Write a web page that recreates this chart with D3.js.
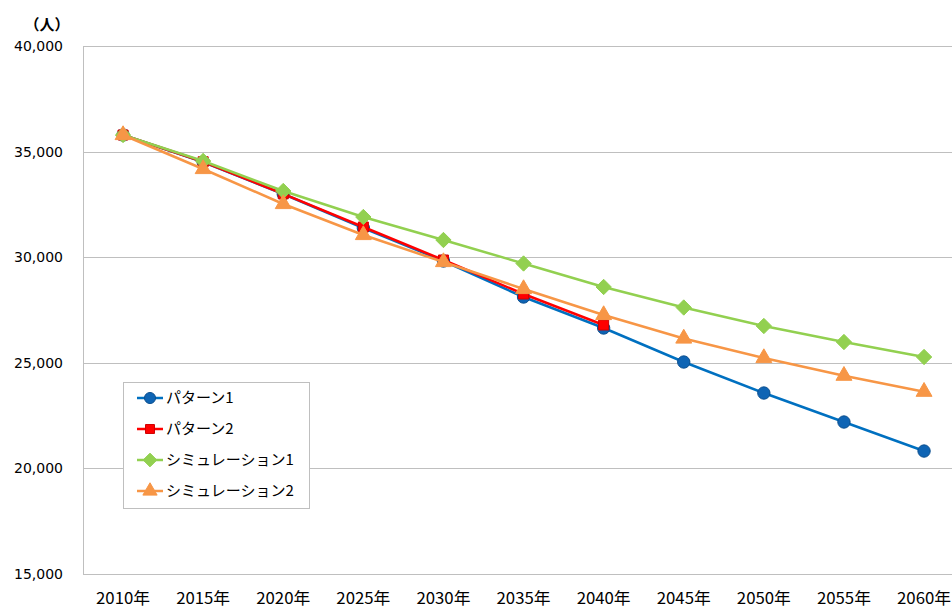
<!DOCTYPE html>
<html>
<head>
<meta charset="utf-8">
<script src="https://cdn.jsdelivr.net/npm/d3@7"></script>
<style>
body { margin: 0; background: #fff; }
svg text { fill: #000; }
</style>
</head>
<body>
<div id="chart"></div>
<script>
var w = 952;
var h = 608;

// categories & series
var years = ["2010年", "2015年", "2020年", "2025年", "2030年", "2035年", "2040年", "2045年", "2050年", "2055年", "2060年"];
var pattern1 = [35786, 34507, 32992, 31382, 29820, 28115, 26647, 25037, 23569, 22196, 20822];
var pattern2 = [35786, 34520, 33000, 31430, 29867, 28257, 26789];
var simulation1 = [35786, 34555, 33134, 31903, 30814, 29702, 28590, 27618, 26742, 25984, 25274];
var simulation2 = [35786, 34176, 32519, 31051, 29772, 28494, 27263, 26150, 25227, 24389, 23631];
var yTicks = [15000, 20000, 25000, 30000, 35000, 40000];

var diamond = d3.symbolDiamond2 || d3.symbolDiamond;

var series = [
    {name: "パターン1", values: pattern1, color: "#0070C0", fill: "#0E64B4", stroke: "#0B4F8F", shape: d3.symbolCircle, size: 120},
    {name: "パターン2", values: pattern2, color: "#FF0000", fill: "#FF0000", stroke: "#D00000", shape: d3.symbolSquare, size: 100},
    {name: "シミュレーション1", values: simulation1, color: "#92D050", fill: "#92D050", stroke: "#92D050", shape: diamond, size: 150},
    {name: "シミュレーション2", values: simulation2, color: "#F79646", fill: "#F79646", stroke: "#F79646", shape: d3.symbolTriangle, size: 110}
];

var plotLeft = 83, plotTop = 46, bandW = 80.1, plotBottom = 574;

var x = d3.scaleBand()
    .domain(years)
    .range([plotLeft, plotLeft + bandW * years.length]);

var y = d3.scaleLinear()
    .domain([15000, 40000])
    .range([plotBottom, plotTop]);

var svg = d3.select("#chart")
    .append("svg")
    .attr("width", w)
    .attr("height", h);

// gridlines
svg.append("g").selectAll("line")
    .data(yTicks)
    .enter()
    .append("line")
    .attr("x1", plotLeft)
    .attr("x2", w)
    .attr("y1", function (d) { return Math.round(y(d)) + 0.5; })
    .attr("y2", function (d) { return Math.round(y(d)) + 0.5; })
    .attr("stroke", "#BFBFBF")
    .attr("stroke-width", 1);

// left axis line
svg.append("line")
    .attr("x1", plotLeft + 0.5).attr("x2", plotLeft + 0.5)
    .attr("y1", plotTop).attr("y2", plotBottom + 0.5)
    .attr("stroke", "#BFBFBF");

// y tick labels
svg.append("g").selectAll("text")
    .data(yTicks)
    .enter()
    .append("text")
    .attr("x", 63)
    .attr("y", function (d) { return y(d); })
    .attr("dy", "0.36em")
    .attr("text-anchor", "end")
    .style("font-family", "'DejaVu Sans', sans-serif")
    .style("font-size", "14px")
    .text(function (d) { return d3.format(",")(d); });

// unit label
svg.append("text")
    .attr("x", 47)
    .attr("y", 25)
    .attr("dy", "0.35em")
    .attr("text-anchor", "middle")
    .style("font-family", "'Noto Sans CJK JP', sans-serif")
    .style("font-size", "15px")
    .style("font-weight", "bold")
    .text("（人）");

// x labels
svg.append("g").selectAll("text")
    .data(years)
    .enter()
    .append("text")
    .attr("x", function (d) { return x(d) + x.bandwidth() / 2; })
    .attr("y", 598)
    .attr("dy", "0.35em")
    .attr("text-anchor", "middle")
    .style("font-family", "'Noto Sans CJK JP', sans-serif")
    .style("font-size", "16px")
    .attr("textLength", 54)
    .attr("lengthAdjust", "spacingAndGlyphs")
    .text(function (d) { return d; });

var line = d3.line()
    .x(function (d, i) { return x(years[i]) + x.bandwidth() / 2; })
    .y(function (d) { return y(d); });

// series lines + markers
series.forEach(function (s) {
    var g = svg.append("g");
    g.append("path")
        .attr("d", line(s.values))
        .attr("fill", "none")
        .attr("stroke", s.color)
        .attr("stroke-width", 2.5)
        .attr("stroke-linejoin", "round");
    g.selectAll("path.m")
        .data(s.values)
        .enter()
        .append("path")
        .attr("class", "m")
        .attr("d", d3.symbol().type(s.shape).size(s.size))
        .attr("transform", function (d, i) {
            return "translate(" + (x(years[i]) + x.bandwidth() / 2) + "," + y(d) + ")";
        })
        .attr("fill", s.fill)
        .attr("stroke", s.stroke)
        .attr("stroke-width", 1);
});

// legend
var legend = svg.append("g");
legend.append("rect")
    .attr("x", 123.5).attr("y", 382.5)
    .attr("width", 186).attr("height", 126)
    .attr("fill", "#fff")
    .attr("stroke", "#BFBFBF");

var items = legend.selectAll("g.item")
    .data(series)
    .enter()
    .append("g")
    .attr("class", "item")
    .attr("transform", function (d, i) { return "translate(0," + (398 + i * 31) + ")"; });

items.append("line")
    .attr("x1", 137).attr("x2", 163)
    .attr("y1", 0).attr("y2", 0)
    .attr("stroke", function (d) { return d.color; })
    .attr("stroke-width", 2.5);

items.append("path")
    .attr("d", function (d) { return d3.symbol().type(d.shape).size(d.size * 0.8)(); })
    .attr("transform", "translate(150,0)")
    .attr("fill", function (d) { return d.fill; })
    .attr("stroke", function (d) { return d.stroke; });

items.append("text")
    .attr("x", 166)
    .attr("y", 0)
    .attr("dy", "0.36em")
    .style("font-family", "'Noto Sans CJK JP', sans-serif")
    .style("font-size", "15px")
    .text(function (d) { return d.name; });
</script>
</body>
</html>
